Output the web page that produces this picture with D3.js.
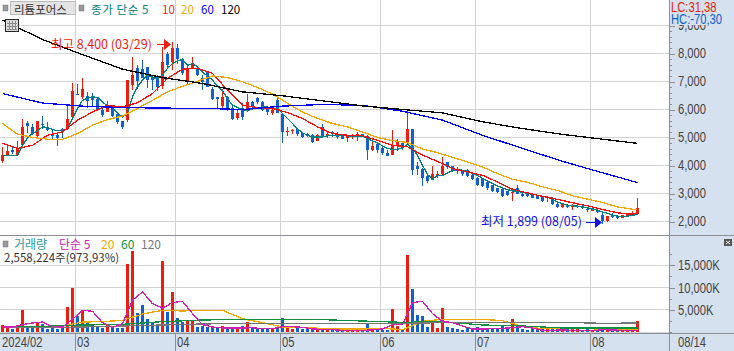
<!DOCTYPE html>
<html>
<head>
<meta charset="utf-8">
<script src="https://cdn.jsdelivr.net/npm/d3@7"></script>
<style>
  html, body { margin: 0; padding: 0; background: #fff; }
  svg { display: block; }
  text { font-family: "Noto Sans CJK KR", "Liberation Sans", sans-serif; }
  text.num { font-family: "Liberation Sans", sans-serif; }
  .line { fill: none; stroke-width: 1.3; shape-rendering: crispEdges; }
</style>
</head>
<body>
<svg id="chart" width="734" height="351"></svg>
<script>
var opens = [4150,4370,4560,4370,4750,5520,5360,5060,5500,5380,5140,5080,5320,5300,5740,6570,6450,6480,6450,6390,6000,5910,6090,5830,5580,5620,6870,7500,7440,7520,7170,7190,6830,7980,7680,8180,7800,6970,7440,7440,7140,7340,6750,6430,6130,6450,6040,5710,6040,5950,6270,6410,6270,6070,5860,6330,5830,5190,5230,5320,5170,5140,5080,4880,5360,5080,5200,5140,5060,4990,5020,5080,5120,5060,4550,4760,4610,4450,4370,4690,4790,4790,5290,3970,3890,3620,3500,3620,3680,4110,3970,3890,3800,3830,3650,3560,3510,3410,3300,3200,3150,3080,3010,3180,3000,2970,2970,2900,2880,2840,2840,2640,2520,2580,2550,2520,2560,2430,2370,2400,2220,2010,2200,2160,2130,2170,2220,2260];
var highs = [4670,4700,4650,4870,5650,5580,5480,5580,5760,5540,5260,5140,5340,6150,6930,6900,7140,6630,6580,6450,6090,6300,6150,5910,5580,7050,7860,7580,7760,7520,7190,7230,8240,8050,8400,8330,7830,7580,7860,7470,7230,7370,6790,6450,6750,6490,6120,6000,6220,6550,6310,6450,6310,6090,6040,6430,5860,5360,5320,5340,5170,5170,5110,5120,5470,5240,5230,5200,5080,5080,5110,5200,5140,5080,4930,4790,4670,4570,5260,4960,4810,5970,5290,4130,3910,3650,3970,3800,4290,4130,3990,3930,3830,3870,3690,3590,3540,3440,3320,3200,3180,3090,3180,3320,3040,3020,3020,2930,2900,2900,2860,2700,2640,2620,2620,2610,2580,2500,2500,2500,2290,2200,2290,2220,2250,2300,2380,2840];
var lows = [4090,4370,4400,4330,4670,5170,5080,4990,5290,5230,4930,4700,5000,5260,5690,6510,6390,6050,6120,5940,5740,5900,5740,5500,5300,5560,6690,6750,7110,6760,6690,6660,6750,7470,7400,7640,7230,6870,7440,7190,6710,6790,6330,6050,5970,5940,5630,5640,5620,5910,6000,6180,5950,5800,5800,5860,4810,5050,5140,5050,5000,5020,4820,4870,5020,5000,5020,4960,4930,4840,4960,4870,5020,4190,4520,4460,4390,4330,4370,4520,4570,4730,3650,3650,3270,3390,3470,3570,3650,3860,3770,3710,3620,3590,3470,3260,3220,3140,3060,3020,2880,2900,2720,2970,2880,2860,2830,2800,2680,2700,2580,2500,2500,2490,2400,2490,2440,2340,2360,2290,1899,1990,2130,2090,2120,2150,2200,2250];
var closes = [4370,4510,4490,4640,5360,5420,5140,5580,5440,5260,5060,5000,5200,5650,6650,6540,6750,6310,6330,6000,5800,6070,5770,5560,5380,7050,7230,7010,7140,7050,7050,6790,7680,7580,8200,7800,7310,7440,7580,7230,6990,6810,6370,6390,6430,6000,5650,5890,5740,6270,6090,6270,6000,5910,6000,5880,5200,5240,5260,5140,5020,5050,4840,5090,5050,5140,5140,5020,4940,5050,5070,5140,5080,4550,4690,4550,4430,4330,4690,4870,4610,5290,3830,3870,3560,3450,3690,3710,3970,3950,3810,3810,3680,3620,3510,3300,3260,3180,3090,3060,2900,2940,3060,3000,2900,2900,2840,2820,2730,2880,2620,2520,2620,2520,2570,2570,2470,2400,2490,2340,2010,2190,2180,2140,2220,2290,2290,2500];
var volumes = [1650,975,600,975,4875,975,975,2100,1875,750,975,750,1125,5625,9900,3600,4875,2100,1875,1125,975,1500,975,975,975,15225,18150,4275,6000,2850,2250,1725,15975,4500,9000,3150,2250,2475,2475,1125,1275,1125,1275,900,1275,975,975,975,1275,2250,975,975,675,675,600,1125,3150,975,675,975,675,675,600,600,975,600,600,600,600,375,375,375,375,1875,750,675,525,525,5100,1350,750,17250,9600,3750,3600,1125,2475,900,5400,1125,900,675,450,1125,600,1125,675,675,675,675,1350,675,2850,1350,675,450,600,675,675,600,600,600,600,600,600,600,375,675,450,375,900,525,450,450,525,525,450,2558];

// price moving averages at the listed day positions
var ma5 = [4360,4360,4360,4370,4720,4980,5140,5240,5380,5360,5290,5240,5240,5320,5680,6050,6330,6400,6450,6430,6270,6120,6090,5860,5740,5860,6450,6810,7050,7230,7140,7110,7230,7470,7640,7740,7790,7580,7640,7520,7340,7190,7050,6830,6670,6390,6150,6070,6000,5950,6040,6070,6090,6090,6040,6040,5860,5680,5500,5300,5170,5080,5020,5020,5020,5060,5080,5080,5080,5060,5050,5050,5060,4960,4880,4810,4700,4610,4580,4580,4630,4760,4610,4370,4010,3680,3510,3650,3650,3740,3810,3860,3830,3810,3710,3650,3540,3440,3360,3270,3200,3140,3090,3080,3040,3000,2970,2940,2900,2880,2790,2700,2640,2580,2560,2550,2520,2490,2450,2400,2340,2290,2220,2190,2170,2190,2220,2250];
var ma10 = [4790,4610,4720,5080,5200,5620,5910,6150,6090,6240,6570,7110,7440,7470,7290,6690,6150,6070,6040,5890,5680,5380,5140,5080,5060,4900,4720,4670,4370,4150,3890,3770,3650,3410,3150,3020,2900,2790,2670,2560,2430,2310,2260,2320];
var ma20 = [5500,5120,5000,4940,4930,5140,5440,5640,5770,6040,6330,6630,6830,7010,7200,7140,6990,6790,6550,6220,5910,5680,5500,5380,5200,5000,4890,4820,4590,4460,4290,4130,3950,3710,3510,3400,3240,3110,2920,2800,2680,2520,2440,2430];
var ma60 = [6570,6230,6120,6070,6050,6040,6000,6120,6180,6150,5940,5620,5080,4610,4150,3740,3390];
var ma120 = [9190,8500,7960,7440,7140,6930,6630,6490,6310,6130,6000,5880,5560,5320,5110,4940,4790];

// volume moving averages
var volMa5 = [1125,1125,1650,2025,2250,1200,1125,2850,4875,4650,2100,1050,1875,7125,9000,6375,5400,6600,6900,4125,1650,1125,900,900,900,975,750,750,1200,1200,1050,675,600,525,375,300,300,525,675,1650,1650,6600,6900,4125,2400,2100,1350,675,675,750,825,975,1200,900,375,375,450,375,300,300,525,450,375,300,300];
var volMa20 = [1275,1275,1350,2250,2325,2625,4050,4875,4725,4875,4875,3000,2100,1125,975,825,675,675,825,525,2400,2850,2850,2850,2550,1275,750,750,750,675,600,600];
var volMa60 = [1275,1275,1575,1725,2325,2700,2850,2775,2775,2475,2175,2325,1575,1350,900,900,900];
var volMa120 = [975,975,1125,1350,1575,1800,1950,1950,1950,1950,1950,2100,2175,2175,2175,1950,2025];

var priceTicks = [2000,3000,4000,5000,6000,7000,8000,9000];
var volumeTicks = [5000,10000,15000];
var monthStarts = [0,15,35,56,76,95,118];
var monthLabels = ["2024/02","03","04","05","06","07","08"];

var dayCount = closes.length,
    days = d3.range(dayCount),
    everyThird = d3.range(0, dayCount, 3).concat(dayCount - 1),
    everyEighth = d3.range(0, dayCount, 8).concat(dayCount - 1),
    everySecond = d3.range(0, dayCount, 2).concat(dayCount - 1),
    everyFourth = d3.range(4, dayCount, 4).concat(dayCount - 1);

var RED = "#EE1C0C", BLUE = "#1060D0", GRID = "#D3D3D3", AXIS = "#8C9096",
    PANEL = "#D6E1EF", LABEL = "#444";

var svg = d3.select("#chart"),
    plotRight = 669;

var x = d3.scaleBand().domain(days).range([0, dayCount * 5]);
var mid = function(d) { return x(d) + 2.5; };
var yPrice = d3.scaleLinear().domain([2000, 8000]).range([221.5, 53.5]);
var yVol = d3.scaleLinear().domain([0, 15000]).range([332, 265.3]);

// panels
svg.append("rect").attr("x", plotRight).attr("y", 0).attr("width", 734 - plotRight).attr("height", 351).attr("fill", PANEL);
svg.append("rect").attr("x", 0).attr("y", 334).attr("width", 734).attr("height", 17).attr("fill", PANEL);

// grid
var grid = svg.append("g").attr("shape-rendering", "crispEdges").attr("stroke", GRID);
grid.selectAll(".hp").data(priceTicks).enter().append("line")
    .attr("x1", 0).attr("x2", plotRight)
    .attr("y1", function(d) { return Math.floor(yPrice(d)) + 0.5; })
    .attr("y2", function(d) { return Math.floor(yPrice(d)) + 0.5; });
grid.selectAll(".hv").data([0].concat(volumeTicks)).enter().append("line")
    .attr("x1", 0).attr("x2", plotRight)
    .attr("y1", function(d) { return Math.floor(yVol(d)) + 0.5; })
    .attr("y2", function(d) { return Math.floor(yVol(d)) + 0.5; });
grid.selectAll(".vl").data(monthStarts.slice(1)).enter().append("line")
    .attr("x1", function(d) { return x(d) + 0.5; })
    .attr("x2", function(d) { return x(d) + 0.5; })
    .attr("y1", 0).attr("y2", 334);

// candles
var candles = svg.append("g").attr("shape-rendering", "crispEdges");
var colorOf = function(d) { return closes[d] >= opens[d] ? RED : BLUE; };
candles.selectAll(".wick").data(days).enter().append("line")
    .attr("x1", mid).attr("x2", mid)
    .attr("y1", function(d) { return yPrice(highs[d]); })
    .attr("y2", function(d) { return yPrice(lows[d]); })
    .attr("stroke", colorOf);
candles.selectAll(".body").data(days).enter().append("rect")
    .attr("x", function(d) { return x(d) + 1; })
    .attr("width", 3)
    .attr("y", function(d) { return yPrice(Math.max(opens[d], closes[d])); })
    .attr("height", function(d) { return Math.max(1, Math.abs(yPrice(opens[d]) - yPrice(closes[d]))); })
    .attr("fill", colorOf);

function drawLine(dayList, values, scale, color) {
  var line = d3.line()
      .x(function(d) { return mid(d[0]); })
      .y(function(d) { return scale(d[1]); });
  svg.append("path")
      .datum(d3.zip(dayList, values))
      .attr("class", "line")
      .attr("stroke", color)
      .attr("d", line);
}

drawLine(days, ma5, yPrice, "#008080");
drawLine(everyThird, ma10, yPrice, "#F01010");
drawLine(everyThird, ma20, yPrice, "#F0A800");
drawLine(everyEighth, ma60, yPrice, "#0000F0");
drawLine(everyEighth, ma120, yPrice, "#000");

// volume bars
svg.append("g").attr("shape-rendering", "crispEdges")
  .selectAll("rect").data(days).enter().append("rect")
    .attr("x", function(d) { return x(d) + 1; })
    .attr("width", 3)
    .attr("y", function(d) { return yVol(volumes[d]); })
    .attr("height", function(d) { return yVol(0) - yVol(volumes[d]); })
    .attr("fill", colorOf);

drawLine(everyFourth, volMa20, yVol, "#F0A800");
drawLine(everyEighth, volMa60, yVol, "#109040");
drawLine(everyEighth, volMa120, yVol, "#777");
drawLine(everySecond, volMa5, yVol, "#D020B0");

// frame lines
var frame = svg.append("g").attr("shape-rendering", "crispEdges").attr("stroke", AXIS);
frame.append("line").attr("x1", 0).attr("x2", 734).attr("y1", 235.5).attr("y2", 235.5);
frame.append("line").attr("x1", 0).attr("x2", 734).attr("y1", 333.5).attr("y2", 333.5);
frame.append("line").attr("x1", plotRight + 0.5).attr("x2", plotRight + 0.5).attr("y1", 0).attr("y2", 351);
frame.selectAll(".m").data(monthStarts.slice(1)).enter().append("line")
    .attr("x1", function(d) { return x(d) + 0.5; })
    .attr("x2", function(d) { return x(d) + 0.5; })
    .attr("y1", 334).attr("y2", 351);

// right axes
function styleAxis(g, labelled) {
  g.attr("shape-rendering", "crispEdges");
  g.select(".domain").remove();
  g.selectAll("line").attr("stroke", AXIS);
  if (labelled) {
    g.selectAll("text").attr("class", "num").attr("fill", LABEL).attr("font-size", 14);
  }
}
var axisP = svg.append("g").attr("transform", "translate(" + plotRight + ",0)");
axisP.append("g").call(d3.axisRight(yPrice).tickValues(d3.range(2000, 9001, 200).filter(function(d) { return d % 1000; })).tickSize(3).tickFormat(""))
    .call(styleAxis, false);
axisP.append("g").call(d3.axisRight(yPrice).tickValues(priceTicks).tickSize(6).tickPadding(3).tickFormat(d3.format(",")))
    .call(styleAxis, true);

var axisV = svg.append("g").attr("transform", "translate(" + plotRight + ",0)");
axisV.append("g").call(d3.axisRight(yVol).tickValues([0, 2500, 7500, 12500, 17500]).tickSize(3).tickFormat(""))
    .call(styleAxis, false);
axisV.append("g").call(d3.axisRight(yVol).tickValues(volumeTicks).tickSize(6).tickPadding(3).tickFormat(function(d) { return d3.format(",")(d) + "K"; }))
    .call(styleAxis, true);

// top right box hides most of the 9,000 label
svg.append("rect").attr("x", plotRight + 1).attr("y", 0).attr("width", 64).attr("height", 25).attr("fill", PANEL);

function label(px, py, str, color, size, cls) {
  return svg.append("text").attr("x", px).attr("y", py).attr("fill", color)
      .attr("font-size", size).attr("class", cls || null).text(str);
}

label(671, 12, "LC:31,38", RED, 14, "num");
label(671, 24, "HC:-70,30", BLUE, 14, "num");

// month labels
svg.selectAll(".month").data(monthStarts).enter().append("text")
    .attr("class", "num")
    .attr("x", function(d, i) { return i === 0 ? 2 : x(d) + 2; })
    .attr("y", 347)
    .attr("fill", LABEL)
    .attr("font-size", 14)
    .text(function(d, i) { return monthLabels[i]; });
label(678, 347, "08/14", LABEL, 14, "num");

// numbers in the reference are tall and narrow
svg.selectAll("text.num").each(function() {
  this.setAttribute("textLength", this.getComputedTextLength() * 0.8);
  this.setAttribute("lengthAdjust", "spacingAndGlyphs");
});

// header
svg.append("rect").attr("x", 10.5).attr("y", 1.5).attr("width", 65).attr("height", 13).attr("fill", "#E4E4E4").attr("stroke", "#BBB").attr("shape-rendering", "crispEdges");
[3, 79].forEach(function(px) {
  svg.append("rect").attr("x", px).attr("y", 5).attr("width", 5).attr("height", 6).attr("fill", "#999").attr("stroke", "#777").attr("stroke-width", 0.5);
});
label(14, 13.5, "리튬포어스", "#333", 11.5);
label(91, 13.5, "종가 단순 5", "#008080", 11.5).attr("letter-spacing", 0.6);
label(162, 13.5, "10", RED, 11.5);
label(181, 13.5, "20", "#F0A800", 11.5);
label(201, 13.5, "60", "#0000F0", 11.5);
label(221, 13.5, "120", "#000", 11.5);

// grid icon over the chart
var icon = svg.append("g").attr("shape-rendering", "crispEdges");
icon.append("rect").attr("x", 5.5).attr("y", 19.5).attr("width", 13).attr("height", 12).attr("fill", "#DDD").attr("stroke", "#222");
[9, 12, 15].forEach(function(px) {
  icon.append("line").attr("x1", px + 0.5).attr("x2", px + 0.5).attr("y1", 21).attr("y2", 30).attr("stroke", "#888");
});
[23, 26, 29].forEach(function(py) {
  icon.append("line").attr("x1", 7).attr("x2", 17).attr("y1", py + 0.5).attr("y2", py + 0.5).attr("stroke", "#888");
});

// high and low marks
label(51, 49, "최고 8,400 (03/29)", RED, 12.5);
svg.append("line").attr("x1", 157).attr("x2", 165).attr("y1", 44.5).attr("y2", 44.5).attr("stroke", RED).attr("shape-rendering", "crispEdges");
svg.append("path").attr("d", "M164,39L171,44.5L164,50Z").attr("fill", RED);
label(481, 226, "최저 1,899 (08/05)", "#1010E0", 12.5);
svg.append("line").attr("x1", 586).attr("x2", 596).attr("y1", 222.5).attr("y2", 222.5).attr("stroke", "#1010E0").attr("shape-rendering", "crispEdges");
svg.append("path").attr("d", "M595,217L602,222.5L595,228Z").attr("fill", "#1010E0");

// volume header
svg.append("rect").attr("x", 3).attr("y", 241).attr("width", 5).attr("height", 6).attr("fill", "#999").attr("stroke", "#777").attr("stroke-width", 0.5);
label(14, 249, "거래량", "#2E9A9A", 12);
label(59, 249, "단순 5", "#D020B0", 12);
label(101, 249, "20", "#F0A800", 12);
label(121, 249, "60", "#109040", 12);
label(141, 249, "120", "#777", 12);
label(4, 262, "2,558,224주(973,93%)", "#333", 11.5);

// restore button
svg.append("rect").attr("x", 724).attr("y", 239).attr("width", 8).attr("height", 7).attr("fill", "#555");
svg.append("path").attr("d", "M726,241L730,244M730,241L726,244").attr("stroke", "#fff").attr("stroke-width", 1);
</script>
</body>
</html>
